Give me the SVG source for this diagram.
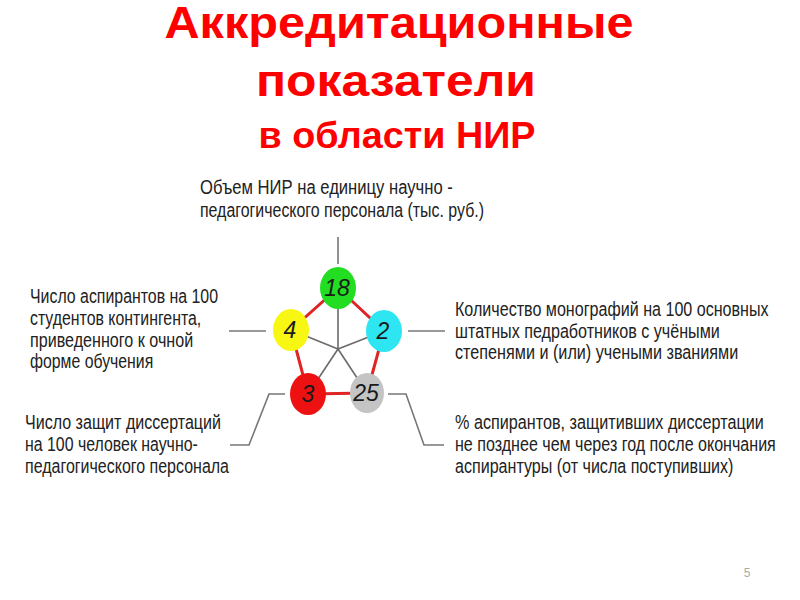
<svg xmlns="http://www.w3.org/2000/svg" width="800" height="600" viewBox="0 0 800 600">
<style>
.title{font-family:"Liberation Sans",Arial,sans-serif;font-weight:bold;fill:#ff0000;text-anchor:middle}
.lbl{font-family:"Liberation Sans",Arial,sans-serif;font-size:20px;fill:#222222}
.num{font-family:"Liberation Sans",Arial,sans-serif;font-size:23px;font-style:italic;fill:#1a1a1a;text-anchor:middle}
.spoke{stroke:#6a6a6a;stroke-width:1.6;fill:none}
.edge{stroke:#e02424;stroke-width:3;fill:none}
.tick{stroke:#777;stroke-width:1.6;fill:none}
</style>
<rect width="800" height="600" fill="#ffffff"/>
<g id="title">
<text class="title" x="399" y="38" font-size="44" textLength="469" lengthAdjust="spacingAndGlyphs">Аккредитационные</text>
<text class="title" x="396" y="96" font-size="45" textLength="280" lengthAdjust="spacingAndGlyphs">показатели</text>
<text class="title" x="397" y="148" font-size="36" textLength="277" lengthAdjust="spacingAndGlyphs">в области НИР</text>
</g>
<g id="connectors">
<line class="spoke" x1="338" y1="349" x2="338" y2="288"/>
<line class="spoke" x1="338" y1="349" x2="291" y2="330"/>
<line class="spoke" x1="338" y1="349" x2="384" y2="331"/>
<line class="spoke" x1="338" y1="349" x2="308" y2="394"/>
<line class="spoke" x1="338" y1="349" x2="367" y2="393"/>
<polygon class="edge" points="338,288 384,331 367,393 308,394 291,330"/>
<line class="tick" x1="338" y1="237" x2="338" y2="264"/>
<line class="tick" x1="229" y1="331" x2="266" y2="331"/>
<line class="tick" x1="408" y1="331" x2="445" y2="331"/>
<polyline class="tick" points="285,394 269,394 249,445 230,445"/>
<polyline class="tick" points="388,394 406,394 424,445 444,445"/>
</g>
<g id="n18"><ellipse cx="338" cy="288" rx="18" ry="21" fill="#22dd22"/><text class="num" x="337" y="296">18</text></g>
<g id="n4"><ellipse cx="291" cy="330" rx="18" ry="21" fill="#f7f713"/><text class="num" x="290" y="338">4</text></g>
<g id="n2"><ellipse cx="384" cy="331" rx="18" ry="21" fill="#2ee6f2"/><text class="num" x="383" y="339">2</text></g>
<g id="n3"><ellipse cx="308" cy="394" rx="18" ry="21" fill="#ee1111"/><text class="num" x="308" y="402">3</text></g>
<g id="n25"><ellipse cx="367" cy="393" rx="17" ry="20" fill="#c4c4c4"/><text class="num" x="366" y="401">25</text></g>
<g id="label-top" transform="matrix(0.8,0,0,1,200,0)">
<text class="lbl" x="0" y="194" textLength="316" lengthAdjust="spacingAndGlyphs">Объем НИР на единицу научно -</text>
<text class="lbl" x="0" y="217" textLength="355" lengthAdjust="spacingAndGlyphs">педагогического персонала (тыс. руб.)</text>
</g>
<g id="label-left" transform="matrix(0.8,0,0,1,30,0)">
<text class="lbl" x="0" y="303" textLength="235" lengthAdjust="spacingAndGlyphs">Число аспирантов на 100</text>
<text class="lbl" x="0" y="325" textLength="214" lengthAdjust="spacingAndGlyphs">студентов контингента,</text>
<text class="lbl" x="0" y="347" textLength="204" lengthAdjust="spacingAndGlyphs">приведенного к очной</text>
<text class="lbl" x="0" y="368" textLength="154" lengthAdjust="spacingAndGlyphs">форме обучения</text>
</g>
<g id="label-right" transform="matrix(0.8,0,0,1,455,0)">
<text class="lbl" x="0" y="316" textLength="392" lengthAdjust="spacingAndGlyphs">Количество монографий на 100 основных</text>
<text class="lbl" x="0" y="338" textLength="331" lengthAdjust="spacingAndGlyphs">штатных педработников с учёными</text>
<text class="lbl" x="0" y="359" textLength="354" lengthAdjust="spacingAndGlyphs">степенями и (или) учеными званиями</text>
</g>
<g id="label-bottom-left" transform="matrix(0.8,0,0,1,25,0)">
<text class="lbl" x="0" y="429" textLength="245" lengthAdjust="spacingAndGlyphs">Число защит диссертаций</text>
<text class="lbl" x="0" y="451" textLength="216" lengthAdjust="spacingAndGlyphs">на 100 человек научно-</text>
<text class="lbl" x="0" y="473" textLength="255" lengthAdjust="spacingAndGlyphs">педагогического персонала</text>
</g>
<g id="label-bottom-right" transform="matrix(0.8,0,0,1,455,0)">
<text class="lbl" x="0" y="429" textLength="386" lengthAdjust="spacingAndGlyphs">% аспирантов, защитивших диссертации</text>
<text class="lbl" x="0" y="451" textLength="401" lengthAdjust="spacingAndGlyphs">не позднее чем через год после окончания</text>
<text class="lbl" x="0" y="473" textLength="348" lengthAdjust="spacingAndGlyphs">аспирантуры (от числа поступивших)</text>
</g>
<text x="747" y="577" font-family="Liberation Sans,Arial,sans-serif" font-size="12" fill="#aaaaaa" text-anchor="middle">5</text>
</svg>
